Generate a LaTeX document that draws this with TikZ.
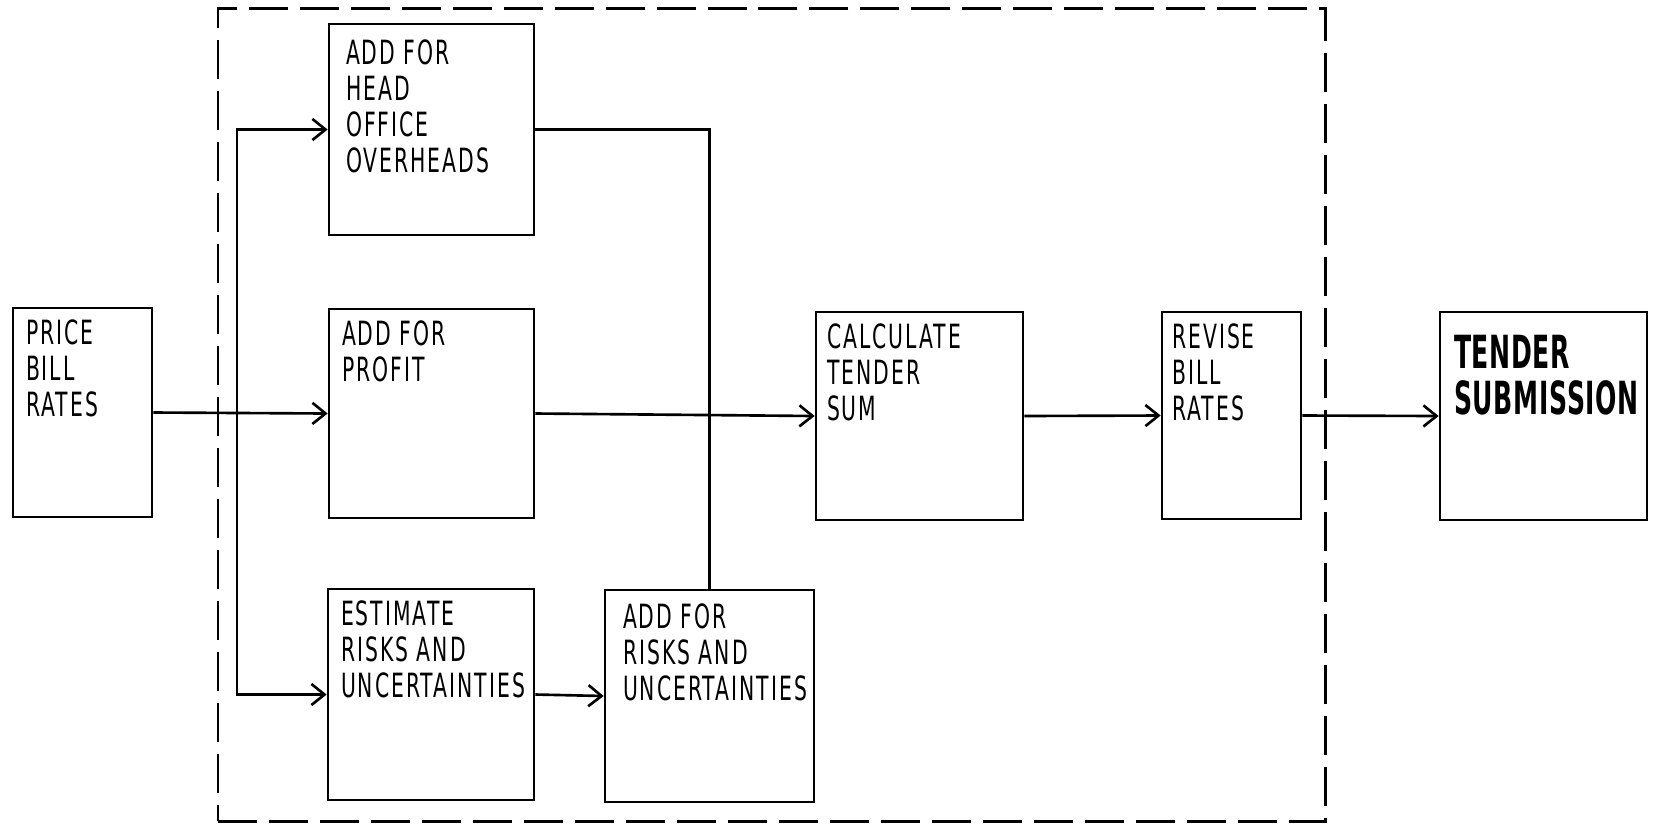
\documentclass[tikz,border=0pt]{standalone}
\usepackage{fontspec}
\setmainfont{DejaVu Sans}[FakeStretch=0.61,LetterSpace=6]
\newfontfamily\bigfont{DejaVu Sans}[FakeStretch=0.55,LetterSpace=1.5]
\usetikzlibrary{arrows.meta,fit}
\tikzset{
  box/.style={draw,inner sep=0pt,line width=1.5pt},
  txt/.style={anchor=north west,align=left,inner sep=0pt,xshift=0.28cm,yshift=-0.26cm,
              font=\fontsize{19}{20.5}\selectfont},
  link/.style={line width=1.5pt},
  >={Straight Barb[length=7.5pt,width=12pt]}
}
\begin{document}
\begin{tikzpicture}
    \begin{scope}[x=0.02cm,y=-0.02cm]
      \useasboundingbox (0,0) rectangle (1655,826);
      % estimating frame
      \node[draw,inner sep=0pt,line width=1.7pt,dash pattern=on 0.78cm off 0.24cm,
            fit={(218,8) (1325,821)}] (frame) {};
      \node[box,fit={(13,308) (152,517)},
            label={[txt]north west:{PRICE\\BILL\\RATES}}] (price) {};
      \node[box,fit={(329,24) (534,235)},
            label={[txt,xshift=0.08cm,yshift=-0.08cm]north west:{ADD FOR\\HEAD\\OFFICE\\OVERHEADS}}] (hoo) {};
      \node[box,fit={(329,309) (534,518)},
            label={[txt]north west:{ADD FOR\\PROFIT}}] (profit) {};
      \node[box,fit={(328,589) (534,800)},
            label={[txt]north west:{ESTIMATE\\RISKS AND\\UNCERTAINTIES}}] (est) {};
      \node[box,fit={(605,590) (814,802)},
            label={[txt,xshift=0.1cm,yshift=-0.04cm]north west:{ADD FOR\\RISKS AND\\UNCERTAINTIES}}] (risk) {};
      \node[box,fit={(816,312) (1023,520)},
            label={[txt,xshift=-0.04cm]north west:{CALCULATE\\TENDER\\SUM}}] (calc) {};
      \node[box,fit={(1162,312) (1301,519)},
            label={[txt,xshift=-0.06cm]north west:{REVISE\\BILL\\RATES}}] (revise) {};
      \node[box,fit={(1440,312) (1647,520)},
            label={[txt,xshift=0.02cm,yshift=-0.22cm,font=\bigfont\bfseries\fontsize{26}{26}\selectfont]north west:{TENDER\\SUBMISSION}}] (tender) {};
      % connectors
      \coordinate (split) at (237,413);
      \draw[link,->] (price.east) -- (profit.west);
      \draw[link,->] (split) |- (hoo.west);
      \draw[link,->] (split) |- (est.west);
      \draw[link] (hoo.east) -| (risk.north);
      \draw[link,->] (est.east) -- (risk.west);
      \draw[link,->] (profit.east) -- (calc.west);
      \draw[link,->] (calc.east) -- (revise.west);
      \draw[link,->] (revise.east) -- (tender.west);
    \end{scope}
\end{tikzpicture}
\end{document}
